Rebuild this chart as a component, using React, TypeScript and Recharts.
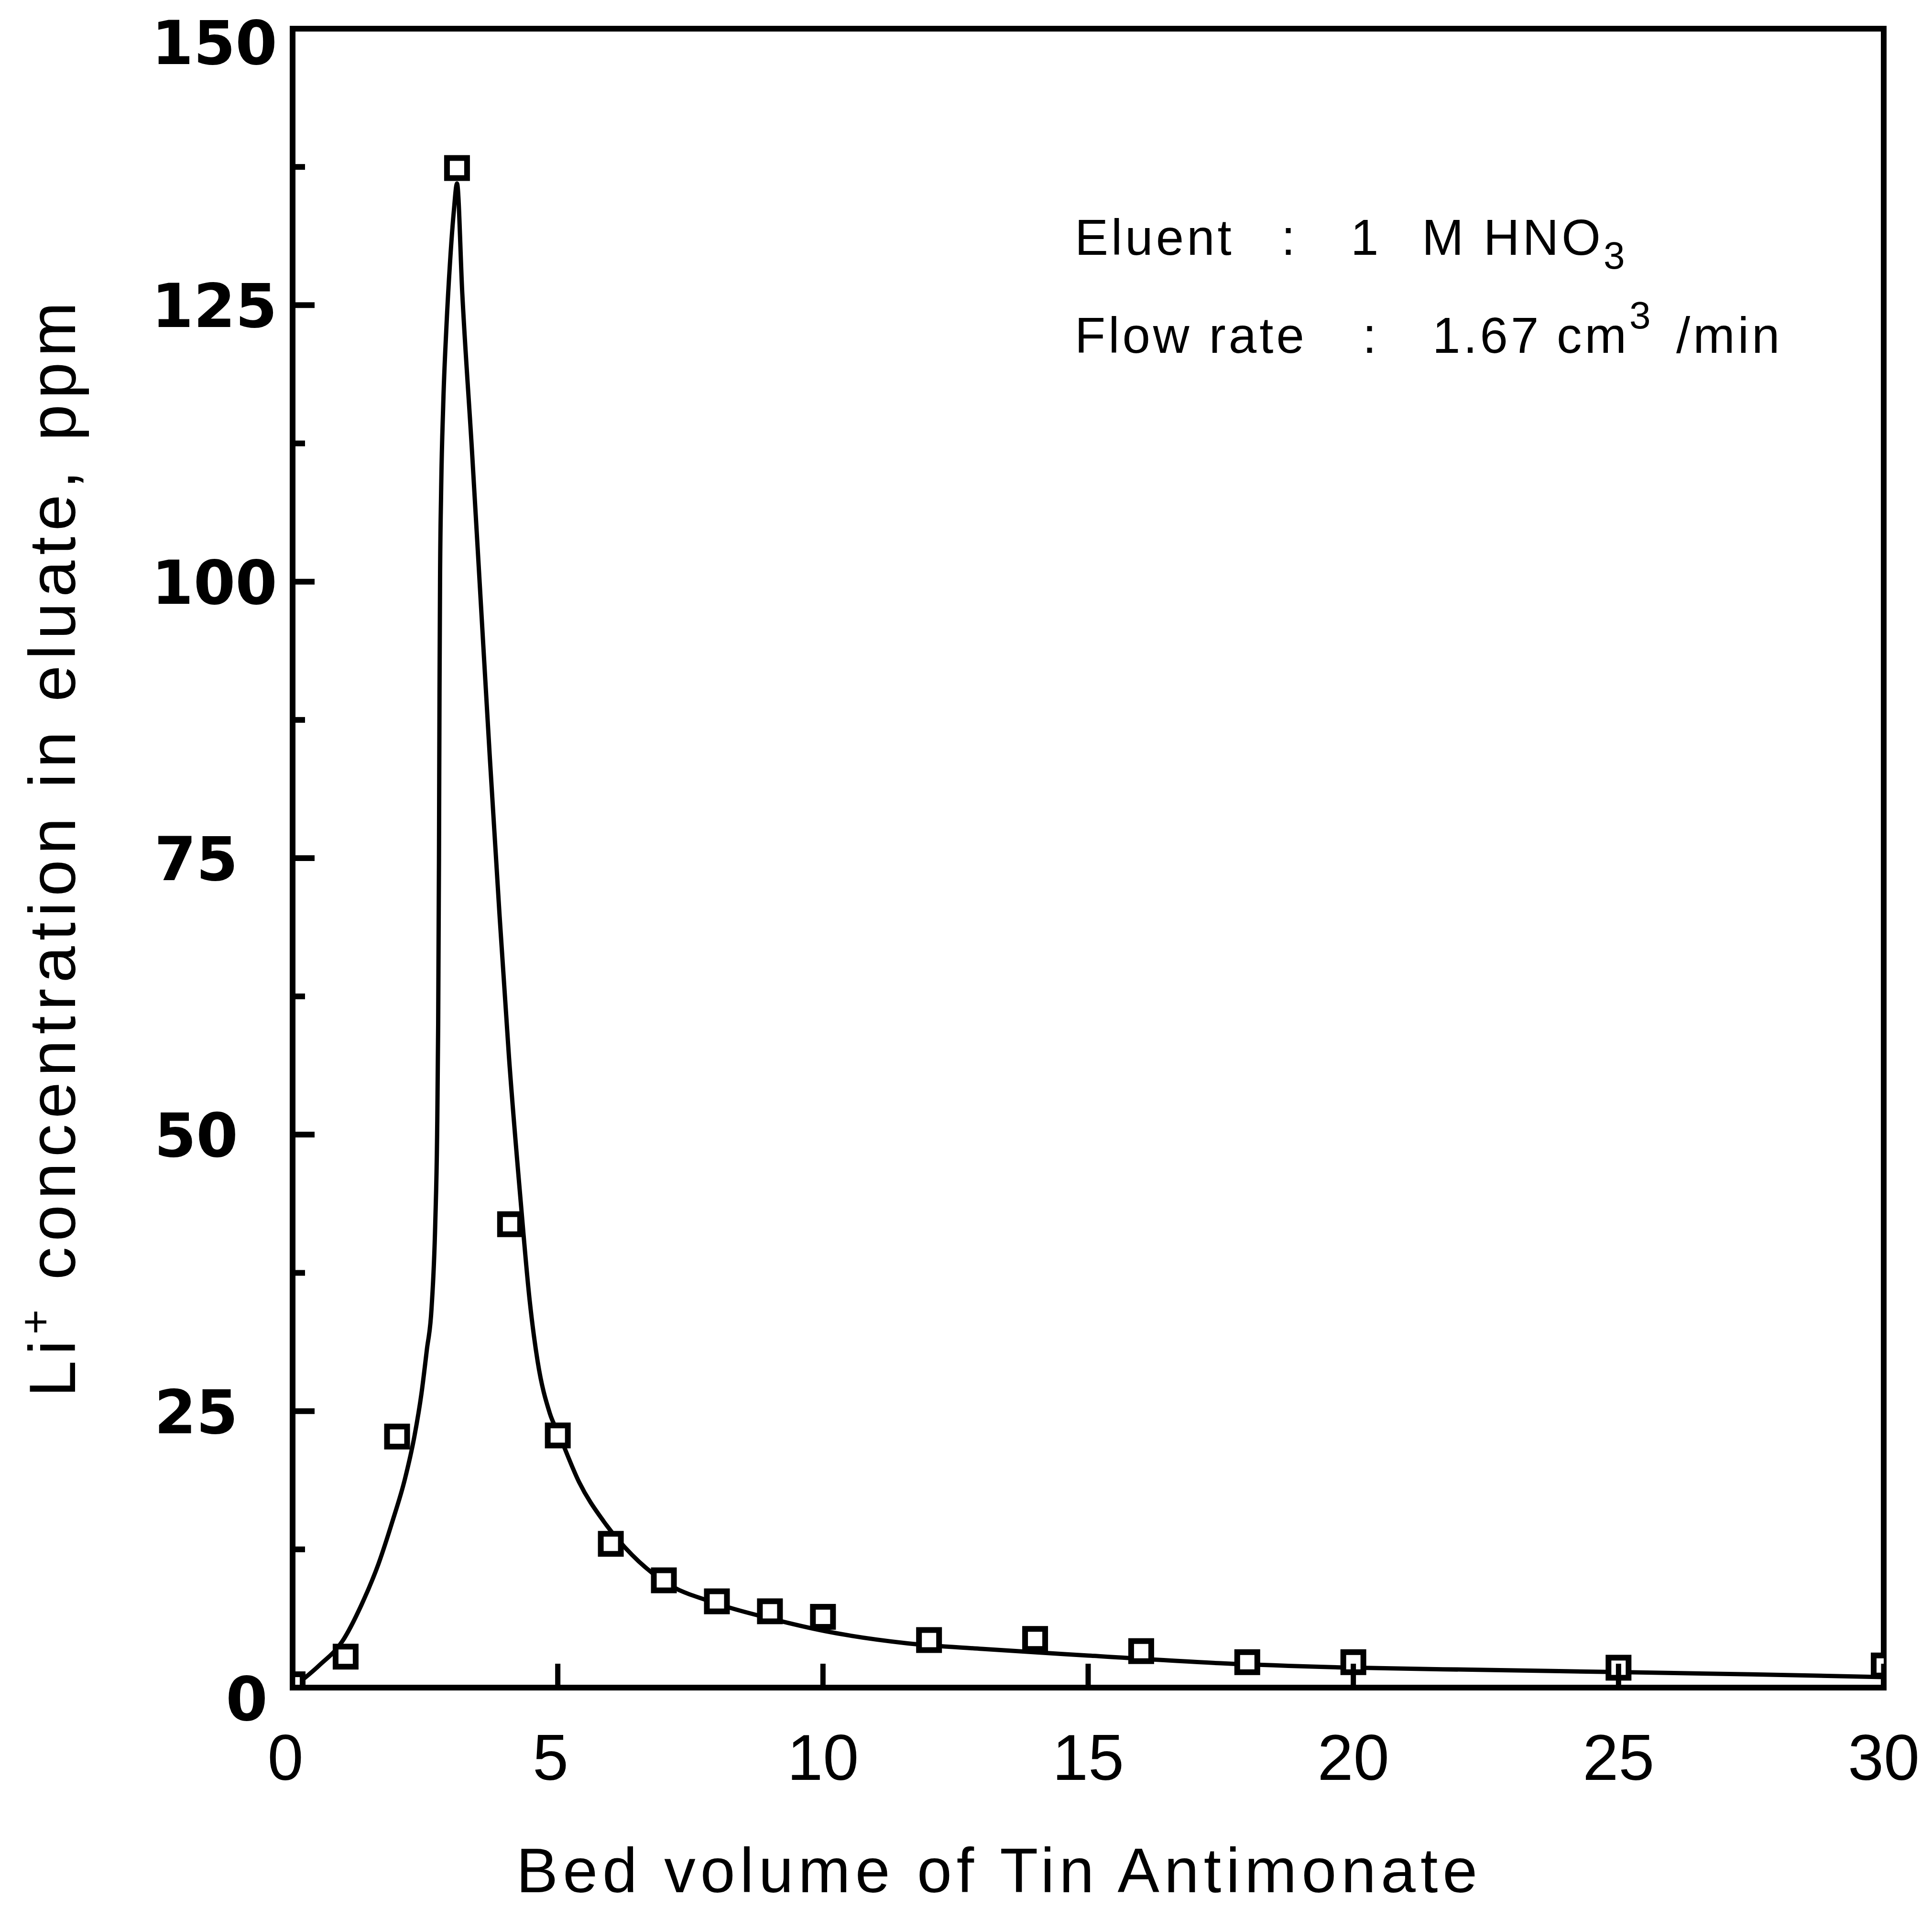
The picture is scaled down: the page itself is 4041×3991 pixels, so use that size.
import React from "react";
import {
  ComposedChart,
  Line,
  Scatter,
  XAxis,
  YAxis,
  ReferenceArea,
} from "recharts";

// measured points (open squares)
const bedVolume = [0, 1, 1.97, 3.1, 4.1, 5, 6, 7, 8, 9, 10, 12, 14, 16, 18, 20, 25, 30];
const liConc = [0.3, 2.8, 22.7, 137.4, 41.9, 22.8, 13.0, 9.7, 7.8, 6.9, 6.4, 4.3, 4.4, 3.3, 2.3, 2.3, 1.8, 2.0];

// hand-drawn fit curve
const curveX = [
  0, 0.5, 0.94, 1.3, 1.62, 1.88, 2.12, 2.3, 2.43, 2.53,
  2.62, 2.69, 2.725, 2.745, 2.76, 2.77, 2.78, 2.8, 2.84, 2.9,
  2.97, 3.04, 3.1, 3.2, 3.38, 3.55, 3.72, 3.9, 4.08, 4.3,
  4.47, 4.62, 4.85, 5.03, 5.4, 5.87, 6.4, 7.0, 8.0, 9.05,
  10.05, 11.6, 13, 15, 17.5, 20, 22.5, 25, 27.5, 30,
];
const curveY = [
  0, 2.0, 4.2, 7.5, 11.2, 15, 18.9, 22.8, 26.6, 30.5,
  34.3, 42, 50, 60, 75, 90, 100, 108, 116, 123,
  129, 133.5, 136, 126, 112, 98, 84, 70, 57, 44,
  35, 29.5, 24.8, 22.8, 18.6, 15.0, 12.0, 9.6, 7.6, 6.2,
  5.1, 4.0, 3.5, 2.9, 2.2, 1.8, 1.6, 1.4, 1.2, 0.95,
];

const xTicks = [0, 5, 10, 15, 20, 25, 30];
const yTicks = [0, 12.5, 25, 37.5, 50, 62.5, 75, 87.5, 100, 112.5, 125, 137.5, 150];

const points = bedVolume.map((x, i) => ({ x, y: liConc[i] }));
const curve = curveX.map((x, i) => ({ x, y: curveY[i] }));

const W = 4041;
const H = 3991;

const YTick = (props: any) => {
  const { x, y, payload } = props;
  const v = payload.value;
  const major = v % 25 === 0;
  const label = String(v);
  const off = label.length === 1 ? 52 : label.length === 2 ? 114 : 32;
  // end labels sit a little low in the original
  const shift = v === 150 ? 28 : v === 0 ? 22 : 0;
  return (
    <g>
      <line x1={x} x2={x + (major ? 46 : 26)} y1={y} y2={y} stroke="#000" strokeWidth={12} />
      {major && (
        <text
          x={x - off}
          y={y + 46 + shift}
          textAnchor="end"
          fontFamily="DejaVu Sans"
          fontWeight="bold"
          fontSize={126}
          fill="#000"
        >
          {label}
        </text>
      )}
    </g>
  );
};

const XTick = (props: any) => {
  const { x, y, payload } = props;
  const label = String(payload.value);
  return (
    <g>
      <line x1={x} x2={x} y1={y} y2={y - 50} stroke="#000" strokeWidth={11} />
      <text
        x={label.length === 1 ? x - 15 : x}
        y={y + 193}
        textAnchor="middle"
        fontFamily="Liberation Sans"
        fontSize={135}
        fill="#000"
      >
        {label}
      </text>
    </g>
  );
};

const Square = (props: any) => {
  const { cx, cy } = props;
  if (cx == null || cy == null) return null;
  return (
    <rect x={cx - 21} y={cy - 21} width={42} height={42} fill="#fff" stroke="#000" strokeWidth={12} />
  );
};

const App = () => {
  return (
    <div style={{ position: "absolute", left: 0, top: 0, width: W, height: H, background: "#fff" }}>
      <ComposedChart
        width={W}
        height={H}
        margin={{ top: 60, right: 101, bottom: 361, left: 512 }}
      >
        <XAxis
          dataKey="x"
          type="number"
          domain={[0, 30]}
          ticks={xTicks}
          interval={0}
          height={100}
          axisLine={false}
          tickLine={false}
          tickSize={0}
          tickMargin={0}
          tick={<XTick />}
          allowDataOverflow
        />
        <YAxis
          dataKey="y"
          type="number"
          domain={[0, 150]}
          ticks={yTicks}
          interval={0}
          width={100}
          axisLine={false}
          tickLine={false}
          tickSize={0}
          tickMargin={0}
          tick={<YTick />}
          allowDataOverflow
        />
        <ReferenceArea x1={0} x2={30} y1={0} y2={150} fill="none" stroke="#000" strokeWidth={12} />
        <Line
          data={curve}
          dataKey="y"
          type="monotone"
          stroke="#000"
          strokeWidth={9}
          dot={false}
          activeDot={false}
          isAnimationActive={false}
        />
        <Scatter data={points} dataKey="y" shape={<Square />} isAnimationActive={false} />
      </ComposedChart>

      <svg
        width={W}
        height={H}
        style={{ position: "absolute", left: 0, top: 0, pointerEvents: "none" }}
      >
        <g fontFamily="Liberation Sans" fill="#000">
          <text
            transform="translate(157,1771) rotate(-90)"
            textAnchor="middle"
            fontSize={137}
            letterSpacing={12}
          >
            Li
            <tspan fontSize={90} dy={-52}>+</tspan>
            <tspan dy={52}> concentration in eluate, ppm</tspan>
          </text>

          <text x={2090} y={3958} textAnchor="middle" fontSize={131} letterSpacing={10}>
            Bed volume of Tin Antimonate
          </text>

          <g fontSize={105} letterSpacing={6}>
            <text x={2248} y={533}>Eluent</text>
            <text x={2680} y={533}>:</text>
            <text x={2825} y={533}>1</text>
            <text x={2974} y={533}>
              M HNO<tspan fontSize={80} dy={29}>3</tspan>
            </text>
            <text x={2248} y={738}>Flow rate</text>
            <text x={2850} y={738}>:</text>
            <text x={2996} y={738}>1.67</text>
            <text x={3256} y={738}>
              cm<tspan fontSize={80} dy={-51}>3</tspan>
            </text>
            <text x={3506} y={738}>/min</text>
          </g>
        </g>
      </svg>
    </div>
  );
};

export default App;
